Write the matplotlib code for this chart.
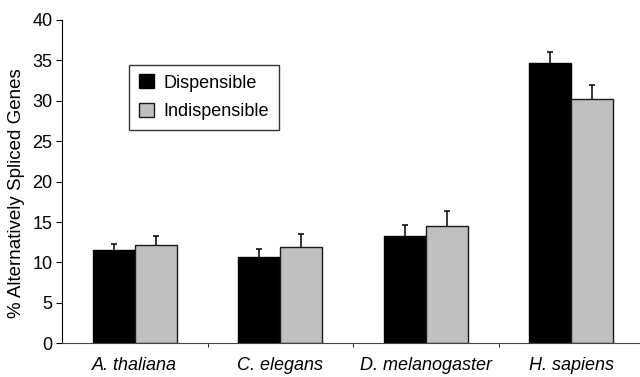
import numpy as np
import matplotlib
matplotlib.use('Agg')
import matplotlib.pyplot as plt

species = ['A. thaliana', 'C. elegans', 'D. melanogaster', 'H. sapiens']
dispensible = [11.55, 10.7, 13.3, 34.7]
dispensible_err = [0.7, 1.0, 1.3, 1.3]
indispensible = [12.2, 11.95, 14.55, 30.2]
indispensible_err = [1.1, 1.6, 1.8, 1.7]

plt.rcParams['font.family'] = ['Liberation Sans', 'DejaVu Sans']

fig = plt.figure(figsize=(6.4, 3.77), dpi=100)
ax = fig.add_axes([62/640, 1-343.3/377, 582/640, (343.3-20)/377])

x = np.arange(len(species))
w = 0.29
ax.bar(x - w/2, dispensible, w, color='black', edgecolor='black', linewidth=1,
       label='Dispensible', zorder=2)
ax.bar(x + w/2, indispensible, w, color='#c0c0c0', edgecolor='#1a1a1a', linewidth=1,
       label='Indispensible', zorder=2)

# upper-only error bars
for off, vals, errs in [(-w/2, dispensible, dispensible_err),
                        (w/2, indispensible, indispensible_err)]:
    tops = np.array(vals) + np.array(errs)
    ax.vlines(x + off, vals, tops, color='black', linewidth=1.1, zorder=3)
    ax.hlines(tops, x + off - 0.02, x + off + 0.02, color='black', linewidth=1.1, zorder=3)

ax.set_xlim(-0.5, 3.5)
ax.set_ylim(0, 40)
ax.set_yticks(range(0, 41, 5))
ax.set_xticks(x)
ax.set_xticklabels(species, fontstyle='italic', fontsize=13)
ax.set_xticks(np.arange(0.5, 3.5, 1), minor=True)
ax.tick_params(axis='x', which='major', length=0, pad=10)
ax.tick_params(axis='x', which='minor', length=3, direction='out')
ax.tick_params(axis='y', length=4, direction='out', labelsize=13, pad=3)
for s in ['top', 'right']:
    ax.spines[s].set_visible(False)
ax.spines['bottom'].set_color('#444444')
ax.set_ylabel('% Alternatively Spliced Genes', fontsize=13.5)
ax.yaxis.set_label_coords(-0.064, 0.466)

leg = ax.legend(loc='upper left', bbox_to_anchor=((129-62)/582, (343.3-64.5)/323.3),
                fontsize=13, frameon=True, fancybox=False, edgecolor='black',
                handlelength=0.85, handleheight=0.8, handletextpad=0.5,
                borderpad=0.55, labelspacing=0.62, borderaxespad=0)
leg.get_frame().set_linewidth(1)

fig.savefig('out.png', dpi=100)
